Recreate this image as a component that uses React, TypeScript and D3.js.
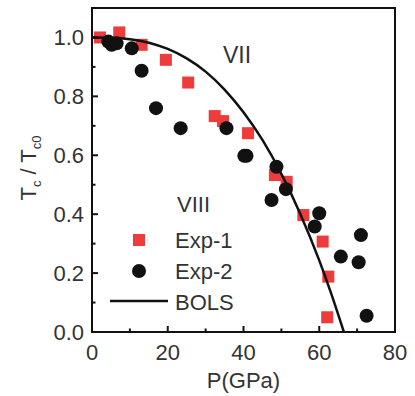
import React from "react";
import * as d3 from "d3";

// Pressure (GPa) and normalised Tc for the two experimental runs
const exp1P = [2.1, 7.2, 13.1, 19.5, 25.4, 32.4, 34.6, 41.2, 48.3, 51.4, 55.8, 60.9, 62.4, 62.1];
const exp1T = [1.0, 1.017, 0.975, 0.924, 0.847, 0.733, 0.716, 0.675, 0.533, 0.51, 0.397, 0.307, 0.188, 0.05];

const exp2P = [4.3, 5.2, 6.5, 10.5, 13.1, 16.9, 23.4, 35.5, 40.2, 40.8, 48.7, 51.2, 47.4, 60.0, 58.8, 71.0, 65.7, 70.4, 72.5];
const exp2T = [0.986, 0.975, 0.98, 0.963, 0.887, 0.76, 0.692, 0.692, 0.598, 0.598, 0.561, 0.485, 0.448, 0.403, 0.358, 0.329, 0.256, 0.237, 0.055];

// BOLS prediction
const bolsP = [0, 5, 10, 15, 20, 25, 30, 35, 40, 45, 50, 55, 60, 63, 66.5];
const bolsT = [1.0, 0.999, 0.994, 0.982, 0.961, 0.929, 0.884, 0.823, 0.746, 0.652, 0.537, 0.401, 0.243, 0.136, 0.0];

const xTicks = [0, 20, 40, 60, 80];
const xMinor = [10, 30, 50, 70];
const yTicks = [0, 0.2, 0.4, 0.6, 0.8, 1.0];
const yMinor = [0.1, 0.3, 0.5, 0.7, 0.9];

const RED = "#ee3b3b";
const INK = "#333";
const FONT = "'Liberation Sans', Arial, sans-serif";

export default function App() {
  const left = 92, right = 395, top = 8, bottom = 332;
  const x = d3.scaleLinear().domain([0, 80]).range([left, right]);
  const y = d3.scaleLinear().domain([0, 1.1]).range([bottom, top]);

  const line = d3
    .line<number>()
    .x((_, i) => x(bolsP[i]))
    .y((d) => y(d))
    .curve(d3.curveMonotoneX);

  const sq = 12;
  const r = 7;

  return (
    <svg
      width={415}
      height={396}
      style={{ position: "absolute", left: 0, top: 0, background: "#fff" }}
      fontFamily={FONT}
    >
      {/* data */}
      {exp1P.map((p, i) => (
        <rect key={"s" + i} x={x(p) - sq / 2} y={y(exp1T[i]) - sq / 2} width={sq} height={sq} fill={RED} />
      ))}
      {exp2P.map((p, i) => (
        <circle key={"c" + i} cx={x(p)} cy={y(exp2T[i])} r={r} fill="#111" />
      ))}
      <path d={line(bolsT) || ""} fill="none" stroke="#111" strokeWidth={2.5} />

      {/* frame */}
      <rect x={left} y={top} width={right - left} height={bottom - top} fill="none" stroke="#111" strokeWidth={2} />

      {/* x axis ticks */}
      {xTicks.map((t) => (
        <g key={"xt" + t}>
          <line x1={x(t)} x2={x(t)} y1={bottom} y2={bottom - 6} stroke="#111" strokeWidth={2} />
          <text x={x(t)} y={360} textAnchor="middle" fontSize={22} fill={INK}>
            {t}
          </text>
        </g>
      ))}
      {xMinor.map((t) => (
        <line key={"xm" + t} x1={x(t)} x2={x(t)} y1={bottom} y2={bottom - 3.5} stroke="#111" strokeWidth={2} />
      ))}

      {/* y axis ticks */}
      {yTicks.map((t) => (
        <g key={"yt" + t}>
          <line x1={left} x2={left + 6} y1={y(t)} y2={y(t)} stroke="#111" strokeWidth={2} />
          <text x={84} y={y(t) + 8} textAnchor="end" fontSize={22} fill={INK}>
            {t.toFixed(1)}
          </text>
        </g>
      ))}
      {yMinor.map((t) => (
        <line key={"ym" + t} x1={left} x2={left + 3.5} y1={y(t)} y2={y(t)} stroke="#111" strokeWidth={2} />
      ))}

      {/* axis titles */}
      <text x={(left + right) / 2} y={388} textAnchor="middle" fontSize={22} fill={INK}>
        P(GPa)
      </text>
      <text transform={`translate(36,${(top + bottom) / 2 - 2}) rotate(-90)`} textAnchor="middle" fontSize={22} fill={INK}>
        T<tspan fontSize={13} dy={5}>c</tspan>
        <tspan dy={-5}> / T</tspan>
        <tspan fontSize={13} dy={5}>c0</tspan>
      </text>

      {/* phase labels */}
      <text x={223} y={63} fontSize={23} fill={INK}>VII</text>
      <text x={177} y={212} fontSize={22} fill={INK}>VIII</text>

      {/* legend */}
      <rect x={139 - sq / 2} y={240 - sq / 2} width={sq} height={sq} fill={RED} />
      <text x={175} y={248} fontSize={22} fill={INK}>Exp-1</text>
      <circle cx={139} cy={271} r={r} fill="#111" />
      <text x={175} y={279} fontSize={22} fill={INK}>Exp-2</text>
      <line x1={110} x2={168} y1={301} y2={301} stroke="#111" strokeWidth={2.5} />
      <text x={175} y={310} fontSize={22} fill={INK}>BOLS</text>
    </svg>
  );
}
